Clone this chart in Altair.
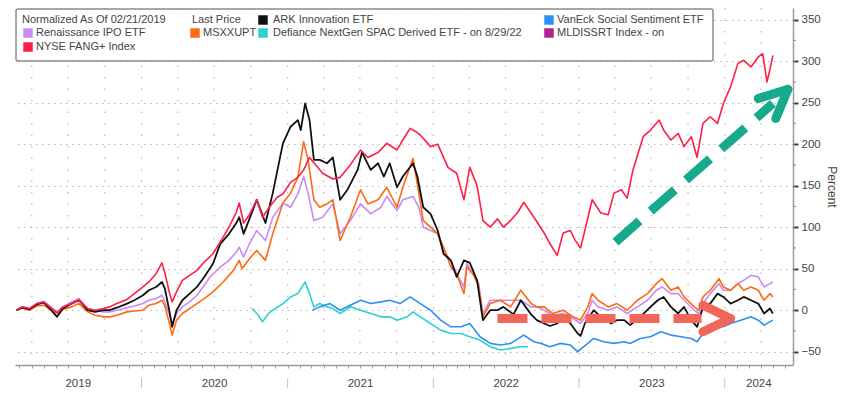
import altair as alt
import pandas as pd

# ---------------- data (decimal year, percent) ----------------
red_t = [2019.14, 2019.18, 2019.23, 2019.28, 2019.33, 2019.37, 2019.42, 2019.46, 2019.52, 2019.57,
         2019.63, 2019.68, 2019.74, 2019.78, 2019.83, 2019.90, 2019.95, 2020.01, 2020.05, 2020.10,
         2020.14, 2020.16, 2020.19, 2020.21, 2020.24, 2020.28, 2020.33, 2020.38, 2020.43, 2020.49,
         2020.56, 2020.60, 2020.65, 2020.67, 2020.70, 2020.74, 2020.79, 2020.83, 2020.88, 2020.93,
         2020.97, 2021.02, 2021.07, 2021.11, 2021.15, 2021.24, 2021.31, 2021.36, 2021.43, 2021.50,
         2021.55, 2021.62, 2021.68, 2021.75, 2021.79, 2021.84, 2021.88, 2021.91, 2021.98, 2022.03,
         2022.10, 2022.16, 2022.21, 2022.25, 2022.30, 2022.34, 2022.39, 2022.44, 2022.48, 2022.53,
         2022.58, 2022.62, 2022.69, 2022.76, 2022.80, 2022.85, 2022.89, 2022.94, 2022.97, 2023.01,
         2023.04, 2023.09, 2023.15, 2023.20, 2023.24, 2023.29, 2023.33, 2023.37, 2023.44, 2023.49,
         2023.55, 2023.58, 2023.63, 2023.68, 2023.72, 2023.77, 2023.81, 2023.85, 2023.90, 2023.95,
         2023.99, 2024.04, 2024.09, 2024.13, 2024.18, 2024.23, 2024.26, 2024.29, 2024.31, 2024.33]
red_v = [0, 4, 2, 8, 10, 4, -3, 4, 8, 12,
         2, 0, 2, 4, 8, 13, 20, 28, 34, 44,
         57, 45, 22, 10, 22, 36, 42, 48, 58, 68,
         88, 100, 118, 129, 105, 115, 133, 112, 125, 136,
         140, 154, 160, 169, 184, 165, 158, 160, 175, 193,
         184, 190, 201, 193, 205, 219, 215, 211, 197, 200,
         172, 165, 133, 172, 150, 108, 100, 110, 100, 108,
         118, 130, 112, 93, 80, 66, 93, 96, 85, 75,
         96, 133, 117, 115, 141, 145, 135, 169, 209, 217,
         229, 217, 205, 213, 197, 209, 184, 225, 233, 225,
         249, 269, 297, 301, 293, 305, 309, 275, 290, 307]

ark_t = [2019.14, 2019.18, 2019.23, 2019.28, 2019.33, 2019.37, 2019.42, 2019.46, 2019.52, 2019.57,
         2019.63, 2019.68, 2019.74, 2019.78, 2019.83, 2019.90, 2019.95, 2020.01, 2020.05, 2020.10,
         2020.14, 2020.16, 2020.19, 2020.21, 2020.24, 2020.28, 2020.33, 2020.38, 2020.43, 2020.49,
         2020.54, 2020.60, 2020.65, 2020.67, 2020.70, 2020.74, 2020.79, 2020.85, 2020.90, 2020.95,
         2020.97, 2021.02, 2021.07, 2021.09, 2021.12, 2021.15, 2021.18, 2021.22, 2021.27, 2021.31,
         2021.36, 2021.41, 2021.48, 2021.51, 2021.57, 2021.62, 2021.66, 2021.70, 2021.75, 2021.79,
         2021.86, 2021.89, 2021.93, 2021.98, 2022.03, 2022.07, 2022.12, 2022.16, 2022.21, 2022.25,
         2022.30, 2022.34, 2022.39, 2022.44, 2022.48, 2022.55, 2022.60, 2022.67, 2022.71, 2022.76,
         2022.80, 2022.85, 2022.89, 2022.94, 2022.99, 2023.01, 2023.04, 2023.10, 2023.15, 2023.22,
         2023.26, 2023.31, 2023.35, 2023.42, 2023.49, 2023.54, 2023.58, 2023.63, 2023.68, 2023.72,
         2023.77, 2023.81, 2023.85, 2023.90, 2023.95, 2023.99, 2024.04, 2024.09, 2024.13, 2024.18,
         2024.23, 2024.27, 2024.31, 2024.33]
ark_v = [0, 3, 1, 7, 9, 2, -8, 2, 8, 12,
         0, -2, 0, 0, 3, 8, 12, 18, 24, 28,
         34, 26, 0, -20, 0, 12, 20, 28, 40, 56,
         80, 92, 105, 112, 92, 110, 133, 105, 141, 184,
         201, 221, 229, 217, 249, 229, 181, 181, 177, 184,
         133, 145, 169, 190, 169, 177, 161, 177, 148, 161,
         177, 161, 124, 116, 96, 68, 60, 40, 60, 57,
         36, -12, 0, 0, 4, -5, 12, -5, -12, -16,
         -19, -16, -8, -16, -28, -31, -16, 0, -8, -16,
         -12, -12, -18, -8, 4, 12, 16, 4, -4, 4,
         -12, -20, 4, 8, 20, 16, 8, 12, 16, 12,
         8, -4, 2, -4]

msx_t = [2019.14, 2019.18, 2019.23, 2019.28, 2019.33, 2019.37, 2019.42, 2019.46, 2019.52, 2019.57,
         2019.63, 2019.68, 2019.74, 2019.78, 2019.83, 2019.90, 2019.95, 2020.01, 2020.05, 2020.10,
         2020.14, 2020.16, 2020.19, 2020.21, 2020.24, 2020.28, 2020.33, 2020.38, 2020.43, 2020.49,
         2020.56, 2020.63, 2020.67, 2020.69, 2020.74, 2020.79, 2020.85, 2020.90, 2020.97, 2021.02,
         2021.07, 2021.11, 2021.14, 2021.18, 2021.22, 2021.27, 2021.31, 2021.36, 2021.43, 2021.50,
         2021.55, 2021.62, 2021.68, 2021.75, 2021.79, 2021.86, 2021.90, 2021.93, 2021.98, 2022.03,
         2022.07, 2022.12, 2022.16, 2022.21, 2022.23, 2022.27, 2022.31, 2022.34, 2022.39, 2022.46,
         2022.53, 2022.60, 2022.67, 2022.71, 2022.76, 2022.82, 2022.89, 2022.96, 2023.01, 2023.06,
         2023.09, 2023.13, 2023.20, 2023.26, 2023.33, 2023.40, 2023.47, 2023.53, 2023.57, 2023.63,
         2023.68, 2023.72, 2023.79, 2023.82, 2023.85, 2023.90, 2023.96, 2023.99, 2024.04, 2024.09,
         2024.13, 2024.18, 2024.23, 2024.27, 2024.31, 2024.33]
msx_v = [0, 3, 0, 5, 6, 1, -4, 1, 4, 8,
         -2, -6, -8, -8, -6, -2, -1, 0, 6, 8,
         12, 5, -15, -30, -12, -4, 2, 8, 14, 22,
         34, 48, 60, 50, 62, 72, 60, 92, 129, 141,
         160, 203, 181, 133, 124, 128, 133, 84, 112, 145,
         128, 133, 148, 124, 148, 183, 141, 108, 100, 92,
         76, 52, 44, 20, 52, 44, 30, -8, 8, 12,
         4, 24, 8, 4, 4, -4, 0, -8, -12, 4,
         20, 12, 4, 8, 0, 12, 20, 32, 38, 24,
         28, 16, 4, 0, 16, 24, 38, 28, 24, 32,
         24, 28, 24, 12, 20, 16]

ipo_t = [2019.14, 2019.18, 2019.23, 2019.28, 2019.33, 2019.37, 2019.42, 2019.46, 2019.52, 2019.57,
         2019.63, 2019.68, 2019.74, 2019.78, 2019.83, 2019.90, 2019.95, 2020.01, 2020.05, 2020.10,
         2020.14, 2020.16, 2020.19, 2020.21, 2020.24, 2020.28, 2020.33, 2020.38, 2020.43, 2020.47,
         2020.54, 2020.60, 2020.65, 2020.67, 2020.70, 2020.74, 2020.79, 2020.85, 2020.90, 2020.97,
         2021.02, 2021.07, 2021.11, 2021.14, 2021.18, 2021.24, 2021.31, 2021.36, 2021.43, 2021.50,
         2021.57, 2021.64, 2021.68, 2021.75, 2021.79, 2021.86, 2021.90, 2021.93, 2021.98, 2022.03,
         2022.07, 2022.12, 2022.16, 2022.21, 2022.23, 2022.27, 2022.31, 2022.34, 2022.39, 2022.46,
         2022.53, 2022.60, 2022.67, 2022.71, 2022.76, 2022.82, 2022.89, 2022.96, 2023.01, 2023.06,
         2023.09, 2023.13, 2023.20, 2023.26, 2023.33, 2023.40, 2023.47, 2023.53, 2023.57, 2023.63,
         2023.68, 2023.72, 2023.79, 2023.82, 2023.85, 2023.90, 2023.96, 2023.99, 2024.04, 2024.09,
         2024.13, 2024.18, 2024.23, 2024.27, 2024.31, 2024.33]
ipo_v = [0, 4, 2, 8, 10, 5, -2, 4, 10, 14,
         2, 0, -2, -2, 0, 3, 5, 8, 12, 14,
         18, 10, -5, -16, -4, 4, 10, 18, 30, 40,
         52, 60, 70, 76, 64, 80, 96, 84, 112, 129,
         124, 140, 161, 141, 108, 112, 128, 92, 108, 128,
         116, 124, 137, 120, 133, 137, 124, 100, 96, 92,
         72, 60, 44, 28, 56, 44, 32, -4, 12, 12,
         12, 12, 4, 4, 0, -6, -4, -10, -16, -4,
         12, 4, 0, 4, -4, 4, 12, 24, 28, 20,
         20, 12, 0, -4, 8, 20, 32, 24, 24, 32,
         36, 42, 40, 28, 32, 34]

spac_t = [2020.76, 2020.80, 2020.83, 2020.87, 2020.90, 2020.97, 2021.02, 2021.07, 2021.12, 2021.15,
          2021.18, 2021.22, 2021.27, 2021.31, 2021.36, 2021.43, 2021.50, 2021.57, 2021.64, 2021.70,
          2021.75, 2021.82, 2021.86, 2021.91, 2021.98, 2022.05, 2022.12, 2022.19, 2022.25, 2022.32,
          2022.39, 2022.46, 2022.53, 2022.60, 2022.65]
spac_v = [2, -6, -14, -4, 0, 8, 16, 20, 34, 20,
          4, 8, 4, 2, -4, 4, 0, -4, -8, -8,
          -12, -8, -2, -8, -16, -24, -28, -28, -32, -36,
          -44, -48, -46, -44, -44]

buzz_t = [2021.17, 2021.22, 2021.29, 2021.36, 2021.43, 2021.50, 2021.57, 2021.64, 2021.70, 2021.77,
          2021.84, 2021.91, 2021.98, 2022.05, 2022.12, 2022.19, 2022.25, 2022.32, 2022.39, 2022.46,
          2022.53, 2022.62, 2022.69, 2022.74, 2022.80, 2022.87, 2022.94, 2022.99, 2023.06, 2023.10,
          2023.17, 2023.24, 2023.31, 2023.35, 2023.42, 2023.49, 2023.56, 2023.63, 2023.70, 2023.77,
          2023.81, 2023.85, 2023.90, 2023.95, 2023.99, 2024.04, 2024.11, 2024.18, 2024.23, 2024.27,
          2024.33]
buzz_v = [0, 4, 8, 0, 6, 12, 8, 10, 12, 8,
          16, 8, 0, -12, -20, -20, -16, -32, -40, -42,
          -40, -30, -38, -40, -44, -40, -42, -50, -40, -34,
          -38, -40, -38, -40, -34, -32, -26, -30, -32, -34,
          -38, -28, -22, -18, -20, -16, -12, -8, -12, -18,
          -12]

# series in drawing order
series_names = ["Renaissance IPO ETF", "MSXXUPT", "Defiance NextGen SPAC Derived ETF",
                "VanEck Social Sentiment ETF", "ARK Innovation ETF", "NYSE FANG+ Index"]
series_colors = ["#c98af5", "#ff6a10", "#2fd0d0", "#2f8ff0", "#111111", "#ff1e46"]
series_widths = [1.6, 1.6, 1.6, 1.6, 1.8, 1.6]
series_t = [ipo_t, msx_t, spac_t, buzz_t, ark_t, red_t]
series_v = [ipo_v, msx_v, spac_v, buzz_v, ark_v, red_v]

# legend entries
legend_labels = ["Normalized As Of 02/21/2019", "Last Price", "ARK Innovation ETF",
                 "VanEck Social Sentiment ETF", "Renaissance IPO ETF", "MSXXUPT",
                 "Defiance NextGen SPAC Derived ETF -  on 8/29/22", "MLDISSRT Index -  on",
                 "NYSE FANG+ Index"]
legend_colors = [None, None, "#111111", "#2f8ff0", "#c98af5", "#ff6a10", "#2fd0d0", "#b0228c", "#ff1e46"]
legend_col = [0, 1, 2, 3, 0, 1, 2, 3, 0]
legend_row = [0, 0, 0, 0, 1, 1, 1, 1, 2]

y_ticks = [-50, 0, 50, 100, 150, 200, 250, 300, 350]
y_minor = [-25, 25, 75, 125, 175, 225, 275, 325]
years = [2019, 2020, 2021, 2022, 2023, 2024]

# annotation arrows (decimal year, percent)
green_line = dict(t=[2023.25], v=[82], t2=[2024.33], v2=[249])
green_head = dict(t=[2024.23, 2024.35], v=[255, 231], t2=[2024.433, 2024.433], v2=[266, 266])
red_line = dict(t=[2022.44], v=[-10], t2=[2023.84], v2=[-10])
red_head = dict(t=[2023.85, 2023.85], v=[6, -26], t2=[2024.04, 2024.04], v2=[-10, -10])

# ---------------- helpers ----------------
def to_dates(ts):
    out = []
    for t in ts:
        y = int(t)
        out.append(pd.Timestamp(year=y, month=1, day=1) + pd.Timedelta(days=(t - y) * 365.25))
    return out

W, H = 778, 357
FONT = "Liberation Sans"
TXT = "#444444"

x_start = pd.Timestamp("2019-02-18")
x_end = pd.Timestamp("2024-06-20")
x_scale = alt.Scale(domain=[alt.DateTime(year=2019, month=2, date=18),
                            alt.DateTime(year=2024, month=6, date=20)])
y_scale = alt.Scale(domain=[-66, 364], nice=False, zero=False)

x_axis = alt.Axis(title=None, labels=False, grid=False,
                  tickCount={"interval": "month", "step": 1},
                  domainColor="#9a9a9a", domainWidth=1.5, tickColor="#9a9a9a",
                  tickSize=3, tickWidth=1)
y_axis = alt.Axis(orient="right", values=y_ticks, grid=True, gridColor="#b8b8b8",
                  gridDash=[1.5, 4.5], gridWidth=1.2, domainColor="#9a9a9a", domainWidth=1.5,
                  tickColor="#444444", tickSize=5, tickWidth=2,
                  labelFont=FONT, labelFontSize=11.5, labelColor=TXT, labelPadding=3,
                  title="Percent", titleFont=FONT, titleFontSize=12, titleFontWeight="normal",
                  titleColor=TXT, titlePadding=4)


def X(f):
    return alt.X(f"{f}:T", scale=x_scale, axis=x_axis, title=None)


def Y(f):
    return alt.Y(f"{f}:Q", scale=y_scale, axis=y_axis, title="Percent")


layers = []

# vertical quarterly dotted grid
q_dates = pd.date_range("2019-04-01", "2024-04-01", freq="QS")
grid_df = pd.DataFrame({"date": q_dates})
layers.append(alt.Chart(grid_df).mark_rule(color="#b8b8b8", strokeDash=[1.5, 10], strokeWidth=1.2)
              .encode(x=X("date"), y=alt.value(0), y2=alt.value(H)))

# y minor ticks
minor_df = pd.DataFrame({"v": y_minor})
layers.append(alt.Chart(minor_df).mark_rule(color="#8a8a8a", strokeWidth=1)
              .encode(y=Y("v"), x=alt.value(W), x2=alt.value(W + 3)))

# series lines
for name, col, sw, ts, vs in zip(series_names, series_colors, series_widths, series_t, series_v):
    df = pd.DataFrame({"date": to_dates(ts), "value": vs, "series": name})
    layers.append(alt.Chart(df).mark_line(color=col, strokeWidth=sw, strokeJoin="round")
                  .encode(x=X("date"), y=Y("value")))


# arrows
def seg_df(d):
    return pd.DataFrame({"t": to_dates(d["t"]), "v": d["v"], "t2": to_dates(d["t2"]), "v2": d["v2"]})


for d, color, dash in [(green_line, "#17a98c", [32, 15]), (red_line, "#f2665a", [30, 14])]:
    layers.append(alt.Chart(seg_df(d)).mark_rule(color=color, strokeWidth=9, strokeDash=dash,
                                                 strokeCap="butt")
                  .encode(x=X("t"), y=Y("v"), x2="t2:T", y2="v2:Q"))
for d, color in [(green_head, "#17a98c"), (red_head, "#f2665a")]:
    layers.append(alt.Chart(seg_df(d)).mark_rule(color=color, strokeWidth=9, strokeCap="round")
                  .encode(x=X("t"), y=Y("v"), x2="t2:T", y2="v2:Q"))

# year band labels and separators below the axis
mids = []
for yv in years:
    a = max(pd.Timestamp(year=yv, month=1, day=1), x_start)
    b = min(pd.Timestamp(year=yv + 1, month=1, day=1), x_end)
    mids.append(a + (b - a) / 2)
year_df = pd.DataFrame({"date": mids, "label": [str(y) for y in years]})
layers.append(alt.Chart(year_df).mark_text(font=FONT, fontSize=11.5, color=TXT, baseline="alphabetic",
                                            align="center")
              .encode(x=X("date"), y=alt.value(H + 22), text="label:N"))
sep_df = pd.DataFrame({"date": [pd.Timestamp(year=y, month=1, day=1) for y in years[1:]]})
layers.append(alt.Chart(sep_df).mark_rule(color="#c4c4c4", strokeWidth=1)
              .encode(x=X("date"), y=alt.value(H + 13), y2=alt.value(H + 23)))

# legend box
one = pd.DataFrame({"a": [0]})
layers.append(alt.Chart(one).mark_rect(fill="white", stroke="#8c8c8c", strokeWidth=1.5, cornerRadius=2)
              .encode(x=alt.value(1), x2=alt.value(698), y=alt.value(1), y2=alt.value(53)))

col_text_x_sw = [21, 188, 258, 542]
col_sw_x = [13, 180, 248, 534]
row_y = [12, 25, 39]
for lab, colr, c, r in zip(legend_labels, legend_colors, legend_col, legend_row):
    if colr is None:
        tx = [7, 177][c]
    else:
        tx = col_text_x_sw[c]
        layers.append(alt.Chart(one).mark_square(color=colr, size=90, opacity=1)
                      .encode(x=alt.value(col_sw_x[c]), y=alt.value(row_y[r])))
    layers.append(alt.Chart(one).mark_text(font=FONT, fontSize=11, color=TXT, align="left",
                                           baseline="middle")
                  .encode(x=alt.value(tx), y=alt.value(row_y[r]), text=alt.value(lab)))

chart = alt.layer(*layers).properties(
    width=W, height=H,
    autosize=alt.AutoSizeParams(type="none"),
    padding={"left": 7, "top": 0, "right": 47, "bottom": 23},
    background="white",
).configure_view(stroke=None)

chart.save("out.html", embed_options={"renderer": "svg", "actions": False})
